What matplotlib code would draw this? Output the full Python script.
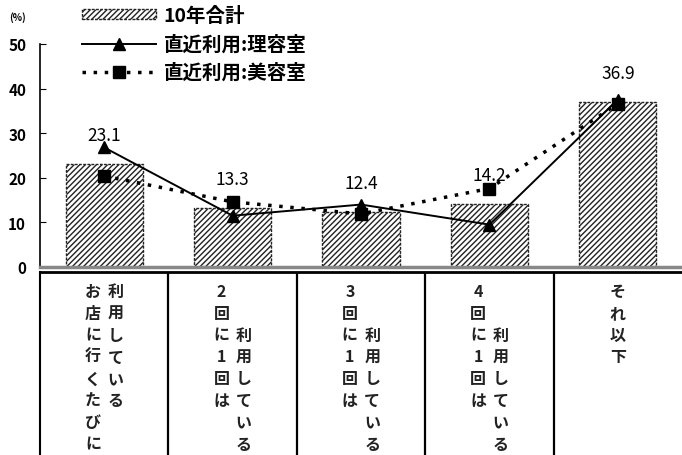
import matplotlib.pyplot as plt
import numpy as np

plt.rcParams['font.family'] = ['Noto Sans CJK JP', 'DejaVu Sans']
plt.rcParams['hatch.linewidth'] = 1.0

# 列見出し（縦書き、左列と右列）
col_left = ['お店に行くたびに', '2回に1回は', '3回に1回は', '4回に1回は', 'それ以下']
col_right = ['利用している', '利用している', '利用している', '利用している', '']
right_start = [0, 2, 2, 2, 0]

total = [23.1, 13.3, 12.4, 14.2, 36.9]
barber = [26.8, 11.5, 14.0, 9.5, 37.5]
salon = [20.4, 14.6, 11.9, 17.6, 36.6]

x = np.arange(len(total))

fig = plt.figure(figsize=(6.82, 4.56), dpi=100)
ax = fig.add_axes([40 / 682, 188 / 456, 642 / 682, 223 / 456])

bars = ax.bar(x, total, width=0.6, color='white', edgecolor='#222222', hatch='//////',
              linewidth=1.0, linestyle=(0, (2, 1)), label='10年合計', zorder=2)
l1, = ax.plot(x, barber, color='black', lw=1.4, marker='^', ms=9,
              label='直近利用:理容室', zorder=3)
l2, = ax.plot(x, salon, color='black', lw=2.5, ls=(0, (1, 2.2)), marker='s', ms=8,
              label='直近利用:美容室', zorder=3)

for xi, v in zip(x, total):
    ax.annotate(f'{v}', (xi, v), xytext=(0, 21), textcoords='offset points',
                ha='center', va='center', fontsize=12.5, zorder=4)

ax.set_xlim(-0.5, 4.5)
ax.set_ylim(0, 50)
ax.set_yticks([0, 10, 20, 30, 40, 50])
ax.set_xticks([])
ax.tick_params(axis='y', direction='in', length=4, labelsize=11, pad=10)
for t in ax.get_yticklabels():
    t.set_fontweight('bold')
ax.spines['top'].set_visible(False)
ax.spines['right'].set_visible(False)
ax.spines['left'].set_linewidth(1.2)
ax.spines['bottom'].set_color('#888888')
ax.spines['bottom'].set_linewidth(2.5)
fig.text(18 / 682, 1 - 18 / 456, '(%)', fontsize=7, fontweight='bold', ha='center', va='center')

fig.legend(handles=[bars, l1, l2], loc='upper left', bbox_to_anchor=(82 / 682, 1 - 7 / 456),
           frameon=False, prop={'size': 14, 'weight': 'bold'},
           handlelength=3.8, handleheight=0.35, handletextpad=0.4, labelspacing=0.47,
           borderaxespad=0, borderpad=0)

# 下の表
tb = fig.add_axes([40 / 682, 0, 642 / 682, 183 / 456])
tb.set_xlim(-0.5, 4.5)
tb.set_ylim(183, 0)
tb.set_xticks([])
tb.set_yticks([])
for s in ['right', 'bottom']:
    tb.spines[s].set_visible(False)
tb.spines['top'].set_linewidth(2)
tb.spines['left'].set_linewidth(1.5)
for b in np.arange(0.5, 4.5, 1):
    tb.axvline(b, color='black', lw=1.6)

step = 21.8
for i in range(len(col_left)):
    off = 0.087 if col_right[i] else 0
    for j, ch in enumerate(col_left[i]):
        tb.text(i - off, 19 + step * j, ch, ha='center', va='center',
                fontsize=11.5, fontweight='bold', color='#222222')
    for j, ch in enumerate(col_right[i]):
        tb.text(i + off, 19 + step * (j + right_start[i]), ch, ha='center', va='center',
                fontsize=11.5, fontweight='bold', color='#222222')

fig.savefig('out.png', dpi=100)
